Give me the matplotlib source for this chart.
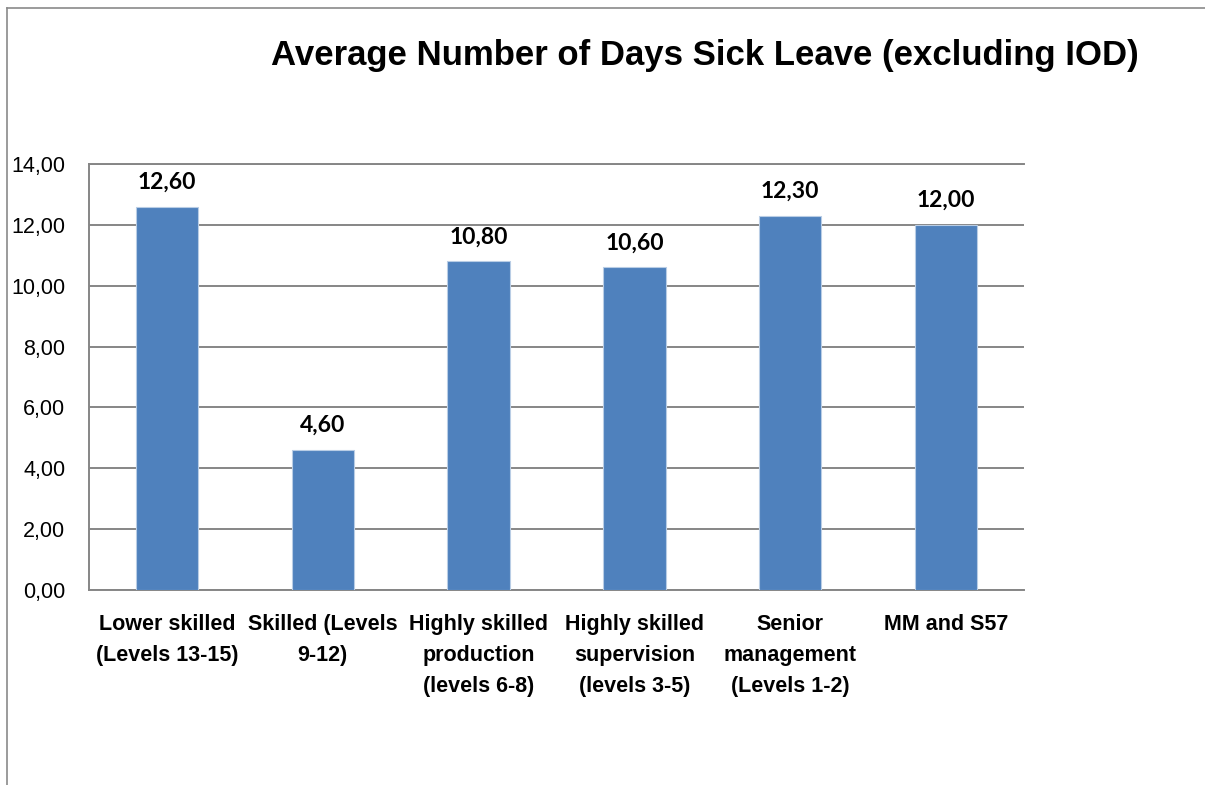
import matplotlib
matplotlib.use("Agg")
import matplotlib.pyplot as plt
from matplotlib.lines import Line2D
from matplotlib.ticker import FuncFormatter

categories = [
    "Lower skilled\n(Levels 13-15)",
    "Skilled (Levels\n9-12)",
    "Highly skilled\nproduction\n(levels 6-8)",
    "Highly skilled\nsupervision\n(levels 3-5)",
    "Senior\nmanagement\n(Levels 1-2)",
    "MM and S57",
]
sick_days = [12.60, 4.60, 10.80, 10.60, 12.30, 12.00]
y_ticks = [0, 2, 4, 6, 8, 10, 12, 14]

narrow = ["Liberation Sans", "DejaVu Sans"]
grid_col = "#868686"
bar_col = "#4F81BD"

fig = plt.figure(figsize=(12.05, 7.85), dpi=100)
ax = fig.add_axes([89 / 1205, 1 - 590 / 785, (1024 - 89) / 1205, (590 - 164) / 785])

x = list(range(len(categories)))
bars = ax.bar(x, sick_days, width=0.4, color=bar_col, edgecolor="#B9CDE5", linewidth=0.8, zorder=3)

ax.set_xlim(-0.5, len(categories) - 0.5)
ax.set_ylim(0, 14)
ax.set_yticks(y_ticks)
ax.yaxis.set_major_formatter(FuncFormatter(lambda v, p: f"{v:.2f}".replace(".", ",")))
ax.grid(axis="y", color=grid_col, linewidth=1.4, zorder=0)
ax.set_axisbelow(True)

ax.spines["right"].set_visible(False)
for side in ["left", "bottom", "top"]:
    ax.spines[side].set_color(grid_col)
    ax.spines[side].set_linewidth(1.4)

ax.set_xticks(x)
ax.set_xticklabels(categories, family=narrow, fontweight="bold", fontsize=15.5, linespacing=1.65)
ax.tick_params(axis="x", length=0, pad=17)
ax.tick_params(axis="y", length=0, pad=17, labelsize=15.5)
for lbl in ax.get_yticklabels():
    lbl.set_family(narrow)

for xi, v in zip(x, sick_days):
    ax.annotate(f"{v:.2f}".replace(".", ","), (xi, v), xytext=(0, 13), textcoords="offset points",
                ha="center", va="baseline", fontsize=16.5, fontweight="bold", family=["Lato", "DejaVu Sans"])

fig.text(705 / 1205, 1 - 56 / 785, "Average Number of Days Sick Leave (excluding IOD)",
         ha="center", va="center", fontsize=25, fontweight="bold", family=narrow)

# outer chart frame (top and left edges only)
fig.add_artist(Line2D([7 / 1205, 7 / 1205], [0, 1 - 8 / 785], transform=fig.transFigure, color="#8a8a8a", linewidth=1.2))
fig.add_artist(Line2D([7 / 1205, 1], [1 - 8 / 785, 1 - 8 / 785], transform=fig.transFigure, color="#8a8a8a", linewidth=1.2))

fig.savefig("out.png", dpi=100)
